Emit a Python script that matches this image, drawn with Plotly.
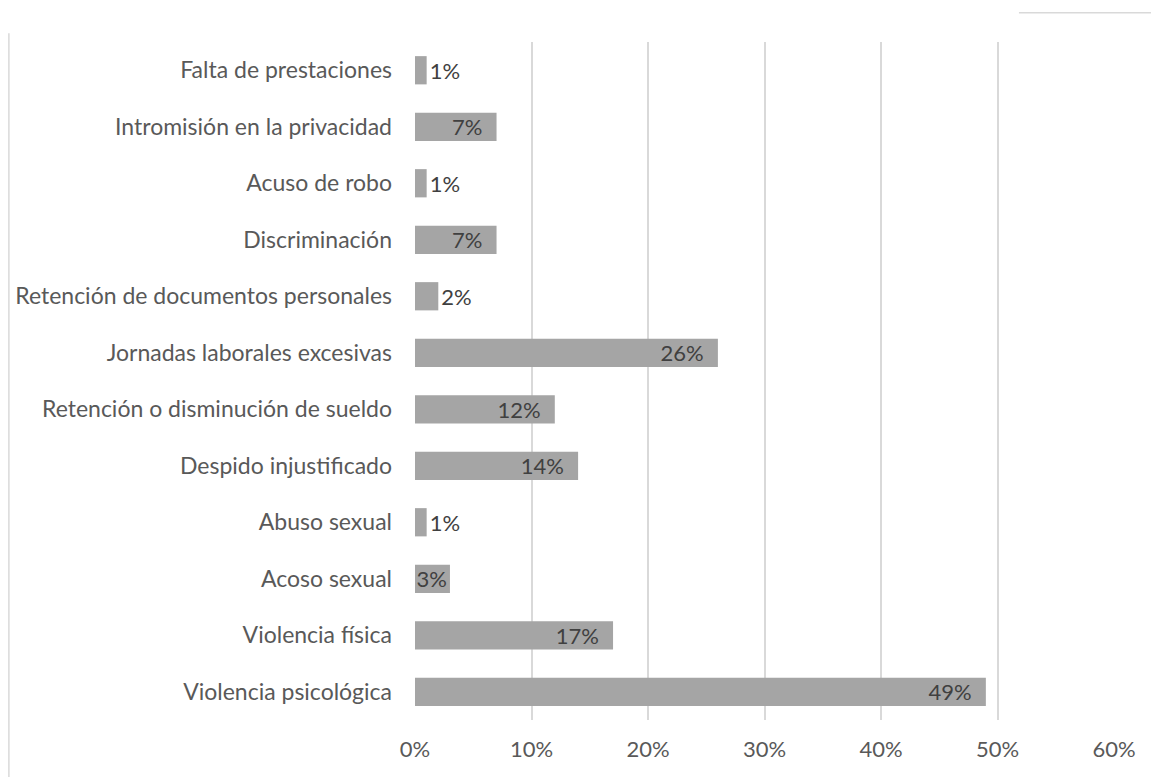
import plotly.graph_objects as go

categorias = [
    "Violencia psicológica",
    "Violencia física",
    "Acoso sexual",
    "Abuso sexual",
    "Despido injustificado",
    "Retención o disminución de sueldo",
    "Jornadas laborales excesivas",
    "Retención de documentos personales",
    "Discriminación",
    "Acuso de robo",
    "Intromisión en la privacidad",
    "Falta de prestaciones",
]
valores = [0.49, 0.17, 0.03, 0.01, 0.14, 0.12, 0.26, 0.02, 0.07, 0.01, 0.07, 0.01]
ticks = [0, 0.1, 0.2, 0.3, 0.4, 0.5, 0.6]

# etiquetas dentro de la barra (con un poco de aire al final) salvo las muy cortas
etiquetas = []
posiciones = []
for v in valores:
    txt = f"{round(v * 100)}%"
    if v >= 0.05:
        etiquetas.append(txt + "\u00a0\u00a0")
        posiciones.append("inside")
    elif v >= 0.03:
        etiquetas.append(txt)
        posiciones.append("inside")
    else:
        etiquetas.append(txt)
        posiciones.append("outside")

fig = go.Figure(go.Bar(
    y=categorias,
    x=valores,
    orientation="h",
    width=0.5,
    marker=dict(color="#a5a5a5", line=dict(width=0)),
    text=etiquetas,
    textposition=posiciones,
    insidetextanchor="end",
    constraintext="none",
    cliponaxis=False,
    textfont=dict(color="#404040", size=22),
))

fig.update_layout(
    width=1159,
    height=777,
    margin=dict(l=407, r=53, t=34, b=65),
    plot_bgcolor="white",
    paper_bgcolor="white",
    font=dict(family="Lato, 'Open Sans', sans-serif", size=22, color="#595959"),
    showlegend=False,
    xaxis=dict(
        range=[0, 0.6],
        tickvals=ticks,
        tickformat=".0%",
        showgrid=True,
        gridcolor="#d9d9d9",
        gridwidth=1.5,
        zeroline=False,
        showline=False,
        ticks="",
        automargin=False,
        ticklabelstandoff=14,
        tickfont=dict(size=22, color="#595959"),
    ),
    yaxis=dict(
        range=[-0.5, 11.5],
        showgrid=False,
        zeroline=False,
        showline=False,
        ticks="",
        automargin=False,
        ticklabelstandoff=22,
        tickfont=dict(size=23, color="#595959"),
    ),
    shapes=[
        dict(type="line", xref="paper", yref="paper",
             x0=-0.581, x1=-0.581, y0=1.013, y1=-0.1,
             line=dict(color="#d9d9d9", width=1.5)),
        dict(type="line", xref="paper", yref="paper",
             x0=0.864, x1=1.08, y0=1.043, y1=1.043,
             line=dict(color="#d9d9d9", width=1.5)),
    ],
)

fig.write_html("out.html")
